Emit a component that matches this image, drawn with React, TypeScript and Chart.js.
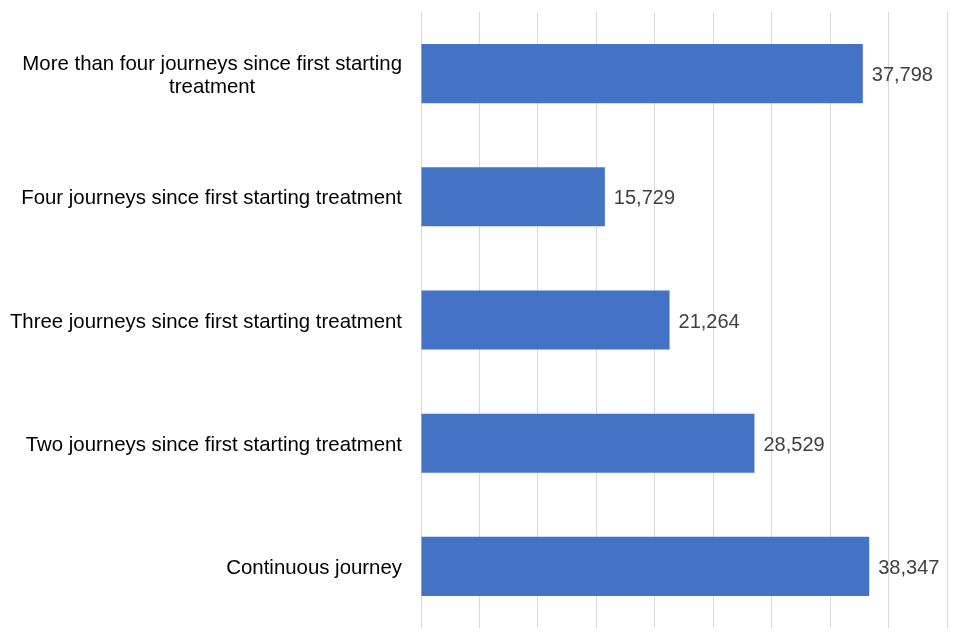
import React, { useEffect, useRef } from "react";
import { Chart, registerables } from "chart.js";

Chart.register(...registerables);

const categories: string[][] = [
  ["More than four journeys since first starting", "treatment"],
  ["Four journeys since first starting treatment"],
  ["Three journeys since first starting treatment"],
  ["Two journeys since first starting treatment"],
  ["Continuous journey"],
];
const values: number[] = [37798, 15729, 21264, 28529, 38347];
const xMax = 45000;
const xStep = 5000;

const FONT = "Arial, 'Liberation Sans', sans-serif";

const labelsPlugin = {
  id: "customLabels",
  afterDatasetsDraw(chart: any) {
    const ctx = chart.ctx;
    const meta = chart.getDatasetMeta(0);
    const yScale = chart.scales.y;
    const area = chart.chartArea;
    ctx.save();
    // data labels
    ctx.font = `20px ${FONT}`;
    ctx.fillStyle = "#404040";
    ctx.textAlign = "left";
    ctx.textBaseline = "middle";
    meta.data.forEach((bar: any, i: number) => {
      ctx.fillText(values[i].toLocaleString("en-US"), bar.x + 9, bar.y + 2);
    });
    // category labels
    ctx.font = `20.4px ${FONT}`;
    ctx.fillStyle = "#000000";
    ctx.textAlign = "center";
    const lineH = 23;
    categories.forEach((lines, i) => {
      const yc = yScale.getPixelForValue(i);
      const maxW = Math.max(...lines.map((l) => ctx.measureText(l).width));
      const cx = area.left - 19 - maxW / 2;
      const startY = yc - ((lines.length - 1) * lineH) / 2;
      lines.forEach((l, j) => ctx.fillText(l, cx, startY + j * lineH + 2));
    });
    ctx.restore();
  },
};

export default function App() {
  const ref = useRef<HTMLCanvasElement | null>(null);
  useEffect(() => {
    if (!ref.current) return;
    const chart = new Chart(ref.current, {
      type: "bar",
      data: {
        labels: categories.map((c) => c.join(" ")),
        datasets: [
          {
            data: values,
            backgroundColor: "#4472C4",
            borderColor: "#4472C4",
            borderWidth: 0,
            barPercentage: 0.48,
            categoryPercentage: 1,
          },
        ],
      },
      options: {
        indexAxis: "y",
        animation: false,
        responsive: true,
        maintainAspectRatio: false,
        layout: { padding: { left: 421, right: 13, top: 12, bottom: 12 } },
        plugins: { legend: { display: false }, tooltip: { enabled: false } },
        scales: {
          x: {
            min: 0,
            max: xMax,
            ticks: { display: false, stepSize: xStep },
            grid: { color: "#d9d9d9", drawTicks: false, lineWidth: 1 },
            border: { display: false },
          },
          y: {
            display: false,
          },
        },
      },
      plugins: [labelsPlugin],
    });
    return () => chart.destroy();
  }, []);
  return (
    <div style={{ position: "fixed", left: 0, top: 0, width: 960, height: 640, background: "#fff" }}>
      <canvas ref={ref} style={{ display: "block" }} />
    </div>
  );
}
